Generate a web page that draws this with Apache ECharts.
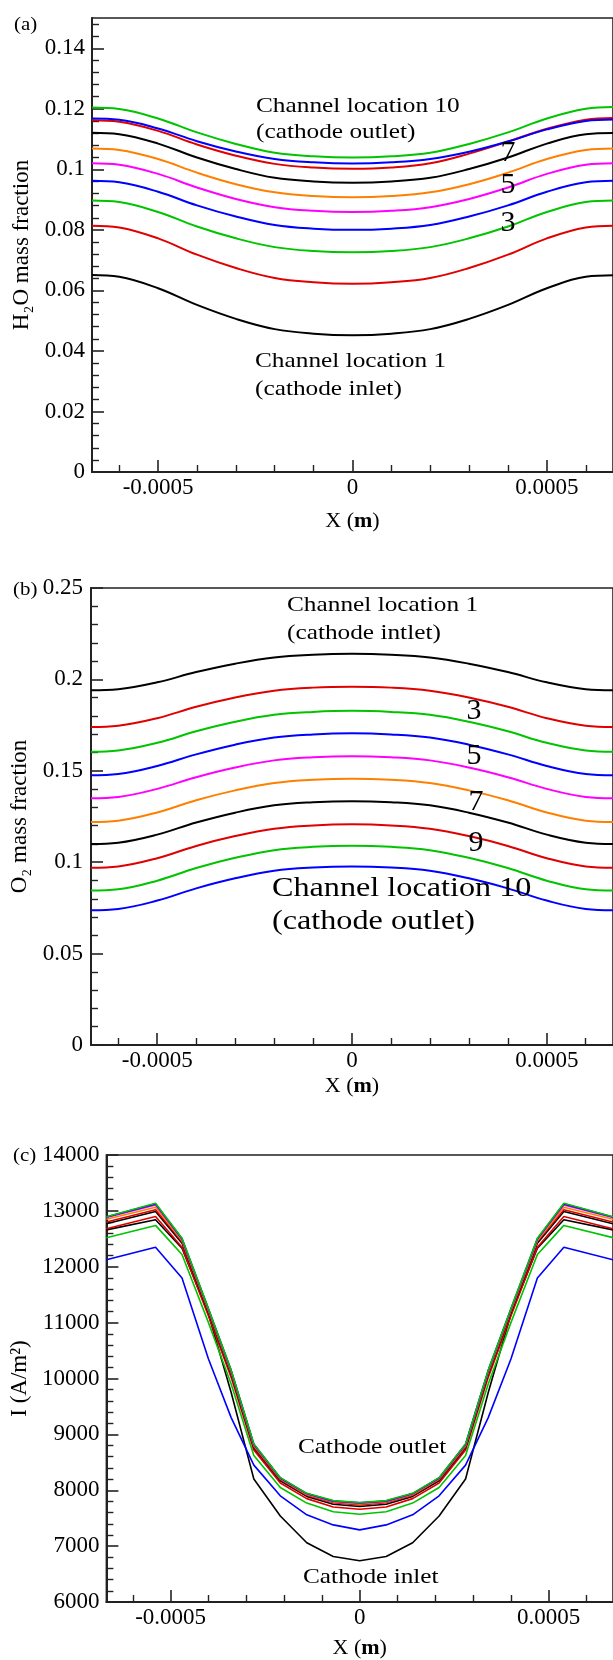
<!DOCTYPE html>
<html>
<head>
<meta charset="utf-8">
<script src="https://cdn.jsdelivr.net/npm/echarts@6/dist/echarts.min.js"></script>
<style>
  html, body { margin: 0; padding: 0; background: #ffffff; }
  #chart { width: 613px; height: 1660px; }
</style>
</head>
<body>
<div id="chart"></div>
<script>
// ---------- data ----------
// Sample positions across the channel width (m), panels (a) and (b)
const xSmooth = [-0.00067, -0.0006, -0.0005, -0.0004, -0.0003, -0.0002, -0.0001, 0,
                 0.0001, 0.0002, 0.0003, 0.0004, 0.0005, 0.0006, 0.00067];

// (a) H2O mass fraction, channel locations 1..10
const h2oLoc1  = [0.0651, 0.0645, 0.0607, 0.0552, 0.0506, 0.0472, 0.0457, 0.0452, 0.0457, 0.0472, 0.0506, 0.0552, 0.0607, 0.0645, 0.0650];
const h2oLoc2  = [0.0814, 0.0808, 0.0772, 0.0718, 0.0674, 0.0641, 0.0627, 0.0622, 0.0627, 0.0641, 0.0674, 0.0718, 0.0772, 0.0808, 0.0814];
const h2oLoc3  = [0.0897, 0.0892, 0.0859, 0.0811, 0.0772, 0.0743, 0.0730, 0.0726, 0.0730, 0.0743, 0.0772, 0.0811, 0.0859, 0.0892, 0.0897];
const h2oLoc4  = [0.0962, 0.0957, 0.0926, 0.0881, 0.0844, 0.0816, 0.0804, 0.0800, 0.0804, 0.0816, 0.0844, 0.0881, 0.0926, 0.0957, 0.0962];
const h2oLoc5  = [0.1020, 0.1015, 0.0985, 0.0940, 0.0902, 0.0875, 0.0863, 0.0859, 0.0863, 0.0875, 0.0902, 0.0940, 0.0985, 0.1015, 0.1020];
const h2oLoc6  = [0.1069, 0.1064, 0.1034, 0.0989, 0.0951, 0.0924, 0.0912, 0.0908, 0.0912, 0.0924, 0.0951, 0.0989, 0.1034, 0.1064, 0.1069];
const h2oLoc7  = [0.1121, 0.1116, 0.1085, 0.1039, 0.1001, 0.0972, 0.0960, 0.0956, 0.0960, 0.0972, 0.1001, 0.1039, 0.1085, 0.1116, 0.1120];
const h2oLoc8  = [0.1162, 0.1157, 0.1127, 0.1082, 0.1045, 0.1018, 0.1006, 0.1002, 0.1006, 0.1020, 0.1052, 0.1092, 0.1134, 0.1164, 0.1170];
const h2oLoc9  = [0.1168, 0.1164, 0.1135, 0.1093, 0.1059, 0.1034, 0.1023, 0.1019, 0.1023, 0.1034, 0.1058, 0.1092, 0.1132, 0.1160, 0.1165];
const h2oLoc10 = [0.1204, 0.1199, 0.1168, 0.1122, 0.1084, 0.1055, 0.1043, 0.1039, 0.1043, 0.1055, 0.1084, 0.1122, 0.1168, 0.1200, 0.1206];

// (b) O2 mass fraction, channel locations 1..10
const o2Loc1  = [0.1940, 0.1946, 0.1984, 0.2040, 0.2086, 0.2120, 0.2135, 0.2140, 0.2135, 0.2120, 0.2086, 0.2040, 0.1984, 0.1946, 0.1940];
const o2Loc2  = [0.1740, 0.1747, 0.1788, 0.1850, 0.1901, 0.1938, 0.1955, 0.1960, 0.1955, 0.1938, 0.1901, 0.1850, 0.1788, 0.1747, 0.1740];
const o2Loc3  = [0.1604, 0.1611, 0.1653, 0.1716, 0.1768, 0.1806, 0.1822, 0.1828, 0.1822, 0.1806, 0.1768, 0.1716, 0.1653, 0.1611, 0.1604];
const o2Loc4  = [0.1475, 0.1482, 0.1526, 0.1590, 0.1643, 0.1682, 0.1699, 0.1705, 0.1699, 0.1682, 0.1643, 0.1590, 0.1526, 0.1482, 0.1475];
const o2Loc5  = [0.1350, 0.1357, 0.1401, 0.1465, 0.1518, 0.1557, 0.1574, 0.1580, 0.1574, 0.1557, 0.1518, 0.1465, 0.1401, 0.1357, 0.1350];
const o2Loc6  = [0.1220, 0.1227, 0.1272, 0.1339, 0.1393, 0.1433, 0.1451, 0.1457, 0.1451, 0.1433, 0.1393, 0.1339, 0.1272, 0.1227, 0.1220];
const o2Loc7  = [0.1100, 0.1107, 0.1151, 0.1217, 0.1271, 0.1311, 0.1328, 0.1334, 0.1328, 0.1311, 0.1271, 0.1217, 0.1151, 0.1107, 0.1100];
const o2Loc8  = [0.0970, 0.0977, 0.1022, 0.1089, 0.1143, 0.1183, 0.1201, 0.1207, 0.1201, 0.1183, 0.1143, 0.1089, 0.1022, 0.0977, 0.0970];
const o2Loc9  = [0.0845, 0.0852, 0.0899, 0.0968, 0.1024, 0.1066, 0.1084, 0.1090, 0.1084, 0.1066, 0.1024, 0.0968, 0.0899, 0.0852, 0.0845];
const o2Loc10 = [0.0737, 0.0744, 0.0790, 0.0857, 0.0912, 0.0953, 0.0971, 0.0977, 0.0971, 0.0953, 0.0912, 0.0857, 0.0790, 0.0744, 0.0737];

// Mesh node positions (m), panel (c)
const xNodes = [-0.00067, -0.00054, -0.00047, -0.0004, -0.00034, -0.00028, -0.00021, -0.00014, -0.00007, 0,
                0.00007, 0.00014, 0.00021, 0.00028, 0.00034, 0.0004, 0.00047, 0.00054, 0.00067];

// (c) current density I (A/m2), inlet curve first
const curLoc1  = [12660, 12840, 12330, 11150, 9750, 8200, 7540, 7060, 6815, 6737, 6815, 7060, 7540, 8200, 9750, 11150, 12330, 12840, 12660];
const curLoc2  = [12125, 12350, 11800, 10350, 9300, 8450, 7900, 7560, 7380, 7291, 7380, 7560, 7900, 8450, 9300, 10350, 11800, 12350, 12125];
const curLoc3  = [12520, 12740, 12220, 11000, 9900, 8620, 8050, 7770, 7615, 7571, 7615, 7770, 8050, 8620, 9900, 11000, 12220, 12740, 12520];
const curLoc4  = [12680, 12900, 12350, 11120, 10020, 8720, 8130, 7850, 7700, 7660, 7700, 7850, 8130, 8720, 10020, 11120, 12350, 12900, 12680];
const curLoc5  = [12770, 12990, 12420, 11180, 10080, 8760, 8170, 7890, 7750, 7710, 7750, 7890, 8170, 8760, 10080, 11180, 12420, 12990, 12770];
const curLoc6  = [12800, 13020, 12450, 11200, 10100, 8780, 8190, 7910, 7775, 7735, 7775, 7910, 8190, 8780, 10100, 11200, 12450, 13020, 12800];
const curLoc7  = [12850, 13065, 12470, 11220, 10120, 8800, 8205, 7925, 7790, 7755, 7790, 7925, 8205, 8800, 10120, 11220, 12470, 13065, 12850];
const curLoc8  = [12880, 13105, 12490, 11235, 10135, 8815, 8215, 7935, 7800, 7768, 7800, 7935, 8215, 8815, 10135, 11235, 12490, 13105, 12880];
const curLoc9  = [12890, 13125, 12500, 11245, 10145, 8825, 8220, 7940, 7808, 7775, 7808, 7940, 8220, 8825, 10145, 11245, 12500, 13125, 12890];
const curLoc10 = [12895, 13135, 12510, 11250, 10150, 8830, 8225, 7945, 7815, 7780, 7815, 7945, 8225, 8830, 10150, 11250, 12510, 13135, 12895];

// Tick labels
const xTickLabels   = [-0.0005, 0, 0.0005];
const h2oTickLabels = [0, 0.02, 0.04, 0.06, 0.08, 0.1, 0.12, 0.14];
const o2TickLabels  = [0, 0.05, 0.1, 0.15, 0.2, 0.25];
const curTickLabels = [6000, 7000, 8000, 9000, 10000, 11000, 12000, 13000, 14000];

// ---------- styling ----------
const FONT = '"Liberation Serif", "Times New Roman", serif';
const AXIS_COLOR = '#222222';
const BLACK = '#000000', RED = '#e00000', GREEN = '#00c400', BLUE = '#0000ff', MAGENTA = '#ff00ff', ORANGE = '#ff8000';

const h2oColors = [BLACK, RED, GREEN, BLUE, MAGENTA, ORANGE, BLACK, RED, BLUE, GREEN];
const o2Colors  = [BLACK, RED, GREEN, BLUE, MAGENTA, ORANGE, BLACK, RED, GREEN, BLUE];
const curColors = [BLACK, BLUE, GREEN, RED, BLACK, RED, ORANGE, MAGENTA, BLUE, GREEN];

// minor tick positions between labelled ticks
function minorTicks(lo, hi, step, every) {
  const out = [];
  const k0 = Math.ceil(lo / step - 1e-9), k1 = Math.floor(hi / step + 1e-9);
  for (let k = k0; k <= k1; k++) {
    if (k % every !== 0) out.push(Number((k * step).toPrecision(10)));
  }
  return out;
}

const X_MIN = -0.00067, X_MAX = 0.00067;

const panels = [
  {
    grid: { left: 92, top: 18, width: 524, height: 454 },
    yMin: 0, yMax: 0.15, yLabels: h2oTickLabels, yMinor: minorTicks(0, 0.15, 0.004, 5),
    yName: 'H\u2082O mass fraction', yNameGap: 57, yLabelMargin: 7,
    xLabelMargin: 4, xNameGap: 38,
    x: xSmooth, lines: [h2oLoc1, h2oLoc2, h2oLoc3, h2oLoc4, h2oLoc5, h2oLoc6, h2oLoc7, h2oLoc8, h2oLoc9, h2oLoc10],
    colors: h2oColors, smooth: 0.4, width: 2
  },
  {
    grid: { left: 91, top: 588, width: 531, height: 457 },
    yMin: 0, yMax: 0.25, yLabels: o2TickLabels, yMinor: minorTicks(0, 0.25, 0.01, 5),
    yName: 'O\u2082 mass fraction', yNameGap: 56, yLabelMargin: 8,
    xLabelMargin: 4, xNameGap: 30,
    x: xSmooth, lines: [o2Loc1, o2Loc2, o2Loc3, o2Loc4, o2Loc5, o2Loc6, o2Loc7, o2Loc8, o2Loc9, o2Loc10],
    colors: o2Colors, smooth: 0.4, width: 2
  },
  {
    grid: { left: 105, top: 1155, width: 518, height: 448 },
    yMin: 6000, yMax: 14000, yLabels: curTickLabels, yMinor: minorTicks(6000, 14000, 200, 5),
    yName: 'I (A/m\u00b2)', yNameGap: 70, yLabelMargin: 7,
    xLabelMargin: 4, xNameGap: 35,
    x: xNodes, lines: [curLoc1, curLoc2, curLoc3, curLoc4, curLoc5, curLoc6, curLoc7, curLoc8, curLoc9, curLoc10],
    colors: curColors, smooth: false, width: 1.6
  }
];

const xMinor = minorTicks(X_MIN, X_MAX, 0.0001, 5);

const grids = [], xAxes = [], yAxes = [], series = [];
const labelStyle = { fontFamily: FONT, fontSize: 23, color: '#000' };

panels.forEach((p, i) => {
  grids.push(Object.assign({ show: true, borderColor: AXIS_COLOR, borderWidth: 1.6, containLabel: false }, p.grid));

  // labelled x axis with major ticks
  xAxes.push({
    type: 'value', gridIndex: i, min: X_MIN, max: X_MAX, position: 'bottom',
    axisLine: { show: true, onZero: false, lineStyle: { color: AXIS_COLOR, width: 2 } },
    axisTick: { show: true, inside: true, length: 12, customValues: xTickLabels, lineStyle: { color: AXIS_COLOR, width: 1.6 } },
    axisLabel: Object.assign({ customValues: xTickLabels, margin: p.xLabelMargin, formatter: v => String(v) }, labelStyle),
    splitLine: { show: false },
    name: 'X ({m|m})', nameLocation: 'middle', nameGap: p.xNameGap,
    nameTextStyle: { fontFamily: FONT, fontSize: 22, color: '#000',
      rich: { m: { fontFamily: FONT, fontSize: 22, fontWeight: 'bold', color: '#000' } } }
  });
  // minor x ticks
  xAxes.push({
    type: 'value', gridIndex: i, min: X_MIN, max: X_MAX, position: 'bottom',
    axisLine: { show: false, onZero: false },
    axisTick: { show: true, inside: true, length: 7, customValues: xMinor, lineStyle: { color: AXIS_COLOR, width: 1.4 } },
    axisLabel: { show: false }, splitLine: { show: false }
  });

  // labelled y axis with major ticks
  yAxes.push({
    type: 'value', gridIndex: i, min: p.yMin, max: p.yMax, position: 'left',
    axisLine: { show: true, onZero: false, lineStyle: { color: AXIS_COLOR, width: 2 } },
    axisTick: { show: true, inside: true, length: 12, customValues: p.yLabels, lineStyle: { color: AXIS_COLOR, width: 1.6 } },
    axisLabel: Object.assign({ customValues: p.yLabels, margin: p.yLabelMargin, formatter: v => String(v) }, labelStyle),
    splitLine: { show: false },
    name: p.yName, nameLocation: 'middle', nameRotate: 90, nameGap: p.yNameGap,
    nameTextStyle: { fontFamily: FONT, fontSize: 23, color: '#000' }
  });
  // minor y ticks
  yAxes.push({
    type: 'value', gridIndex: i, min: p.yMin, max: p.yMax, position: 'left',
    axisLine: { show: false, onZero: false },
    axisTick: { show: true, inside: true, length: 7, customValues: p.yMinor, lineStyle: { color: AXIS_COLOR, width: 1.4 } },
    axisLabel: { show: false }, splitLine: { show: false }
  });

  p.lines.forEach((vals, k) => {
    series.push({
      type: 'line', xAxisIndex: 2 * i, yAxisIndex: 2 * i,
      data: vals.map((v, j) => [p.x[j], v]),
      smooth: p.smooth, showSymbol: false, silent: true, clip: true,
      lineStyle: { color: p.colors[k], width: p.width },
      itemStyle: { color: p.colors[k] }
    });
  });
});

// annotation text
function note(text, x, y, size, align, stretch) {
  return {
    type: 'text', x: x, y: y, scaleX: stretch, silent: true, z: 100,
    style: { text: text, font: size + 'px ' + FONT, fill: '#000', textAlign: align, textVerticalAlign: 'middle' }
  };
}
const S = 1.15;
const notes = [
  note('(a)', 14, 25, 19, 'left', 1.1),
  note('Channel location 10', 256, 106, 22, 'left', S),
  note('(cathode outlet)', 256, 132, 22, 'left', S),
  note('Channel location 1', 255, 361, 22, 'left', S),
  note('(cathode inlet)', 255, 389, 22, 'left', S),
  note('7', 508, 153, 30, 'center', 1),
  note('5', 508, 185, 30, 'center', 1),
  note('3', 508, 223, 30, 'center', 1),

  note('(b)', 13, 590, 19, 'left', 1.1),
  note('Channel location 1', 287, 605, 22, 'left', S),
  note('(cathode intlet)', 287, 633, 22, 'left', S),
  note('3', 474, 711, 30, 'center', 1),
  note('5', 474, 756, 30, 'center', 1),
  note('7', 476, 802, 30, 'center', 1),
  note('9', 476, 843, 30, 'center', 1),
  note('Channel location 10', 272, 889, 28, 'left', S),
  note('(cathode outlet)', 272, 922, 28, 'left', S),

  note('(c)', 13, 1156, 19, 'left', 1.1),
  note('Cathode outlet', 298, 1447, 22, 'left', S),
  note('Cathode inlet', 303, 1577, 22, 'left', S)
];

const chart = echarts.init(document.getElementById('chart'), null, { renderer: 'canvas' });
chart.setOption({
  animation: false,
  backgroundColor: '#ffffff',
  grid: grids,
  xAxis: xAxes,
  yAxis: yAxes,
  series: series,
  graphic: { elements: notes }
});
</script>
</body>
</html>
